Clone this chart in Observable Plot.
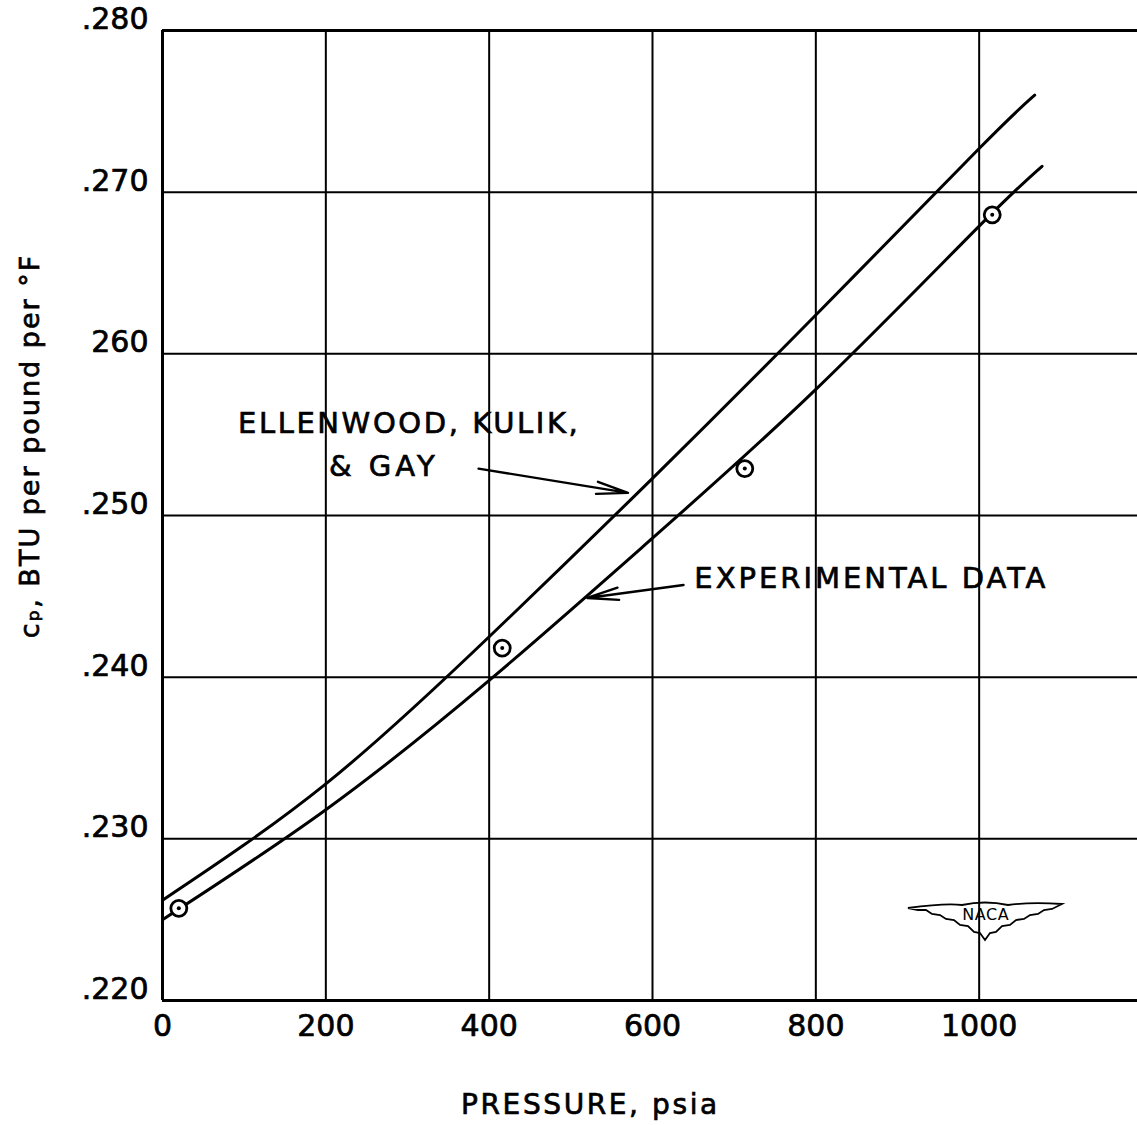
<!DOCTYPE html>
<html>
<head>
<meta charset="utf-8">
<script src="https://cdn.jsdelivr.net/npm/d3@7"></script>
<script src="https://cdn.jsdelivr.net/npm/@observablehq/plot@0.6"></script>
<style>
  html, body { margin: 0; padding: 0; background: #fff; }
  #chart { position: relative; width: 1137px; height: 1125px; overflow: hidden; }
  #chart svg { font-family: "DejaVu Sans", sans-serif; }
</style>
</head>
<body>
<div id="chart"></div>
<script>
// Pressure (psia) and specific heat cp (BTU per pound per °F)
const ellenwoodP  = [0, 200, 400, 600, 800, 1000, 1068];
const ellenwoodCp = [0.2262, 0.2334, 0.2425, 0.2523, 0.2624, 0.2727, 0.2760];
const experimentalP  = [0, 200, 400, 600, 800, 1000, 1077];
const experimentalCp = [0.2250, 0.2318, 0.2398, 0.2486, 0.2578, 0.2679, 0.2716];
const pointP  = [20, 416, 713, 1016];
const pointCp = [0.2257, 0.2418, 0.2529, 0.2686];

const xTicks = [0, 200, 400, 600, 800, 1000];
const xTickLabels = ["0", "200", "400", "600", "800", "1000"];
const yTicks = [0.22, 0.23, 0.24, 0.25, 0.26, 0.27, 0.28];
const yTickLabels = [".220", ".230", ".240", ".250", "260", ".270", ".280"];

const xGrid = [200, 400, 600, 800, 1000];
const yGrid = [0.23, 0.24, 0.25, 0.26, 0.27];

const annotations = [
  {text: "ELLENWOOD, KULIK,", x: 302, y: 0.2557},
  {text: "& GAY", x: 271, y: 0.2530},
  {text: "EXPERIMENTAL DATA", x: 868, y: 0.2461}
];
const arrows = [
  {x1: 387, y1: 0.2529, x2: 570, y2: 0.2514},
  {x1: 638, y1: 0.2457, x2: 520, y2: 0.2449}
];

const ellenwood = ellenwoodP.map((p, i) => ({p, cp: ellenwoodCp[i]}));
const experimental = experimentalP.map((p, i) => ({p, cp: experimentalCp[i]}));
const points = pointP.map((p, i) => ({p, cp: pointCp[i]}));

const xFmt = d => xTickLabels[xTicks.indexOf(d)];
const yFmt = d => yTickLabels[yTicks.findIndex(t => Math.abs(t - d) < 1e-9)];

const chart = Plot.plot({
  width: 1137,
  height: 1125,
  marginLeft: 162,
  marginRight: 0,
  marginTop: 30,
  marginBottom: 125,
  style: {fontFamily: "DejaVu Sans, sans-serif", background: "#fff", color: "#000"},
  x: {domain: [0, 1200], range: [162, 1142]},
  y: {domain: [0.22, 0.28]},
  marks: [
    Plot.ruleX(xGrid, {stroke: "#000", strokeWidth: 2}),
    Plot.ruleY(yGrid, {stroke: "#000", strokeWidth: 2}),
    Plot.ruleX([0, 1200], {stroke: "#000", strokeWidth: 3}),
    Plot.ruleY([0.22, 0.28], {stroke: "#000", strokeWidth: 3}),
    Plot.axisX({ticks: xTicks, tickFormat: xFmt, tickSize: 0, tickPadding: 14, fontSize: 30, label: null}),
    Plot.axisY({ticks: yTicks, tickFormat: yFmt, tickSize: 0, tickPadding: 14, fontSize: 30, dy: -11, label: null}),
    Plot.line(ellenwood, {x: "p", y: "cp", curve: "natural", stroke: "#000", strokeWidth: 3}),
    Plot.line(experimental, {x: "p", y: "cp", curve: "natural", stroke: "#000", strokeWidth: 3}),
    Plot.dot(points, {x: "p", y: "cp", r: 8, stroke: "#000", strokeWidth: 2.8, fill: "#fff"}),
    Plot.dot(points, {x: "p", y: "cp", r: 2, fill: "#000"}),
    Plot.text(annotations, {x: "x", y: "y", text: "text", fontSize: 29, fill: "#000"}),
    Plot.arrow(arrows, {x1: "x1", y1: "y1", x2: "x2", y2: "y2", stroke: "#000", strokeWidth: 2.4, headLength: 20, headAngle: 22}),
    Plot.text(["PRESSURE, psia"], {x: 524, y: 0.22, dy: 105, fontSize: 28, fill: "#000"}),
    Plot.text(["cₚ, BTU per pound per °F"], {x: 0, y: 0.2543, dx: -132, rotate: -90, fontSize: 27, fill: "#000"}),
    Plot.text(["NACA"], {x: 1008, y: 0.2253, fontSize: 16, fill: "#000"})
  ]
});
document.getElementById("chart").appendChild(chart);

const svg = d3.select(chart);
// letter spacing and stroke weight like the hand lettering of the original
const spacing = {
  "ELLENWOOD, KULIK,": "2.6px",
  "& GAY": "4px",
  "EXPERIMENTAL DATA": "3px",
  "PRESSURE, psia": "2.6px",
  "cₚ, BTU per pound per °F": "2px",
  "NACA": "0.5px"
};
svg.selectAll("text").each(function () {
  const s = spacing[this.textContent];
  if (s) this.style.letterSpacing = s;
  if (this.textContent !== "NACA") {
    this.style.stroke = "#000";
    this.style.strokeWidth = "0.7px";
  }
});

// NACA wing emblem outline (decorative)
svg.append("path")
  .attr("d", "M908,908 Q945,903 962,905 Q985,900 1008,905 Q1030,902 1062,904 L1052,909 L1044,910 L1038,914 L1030,915 L1024,919 L1016,920 L1010,925 L1002,926 L996,932 L990,933 L985,940 L980,933 L974,932 L968,926 L960,925 L954,920 L946,919 L940,915 L932,914 L926,910 L918,910 Z")
  .attr("fill", "none").attr("stroke", "#000").attr("stroke-width", 1.8);
</script>
</body>
</html>
